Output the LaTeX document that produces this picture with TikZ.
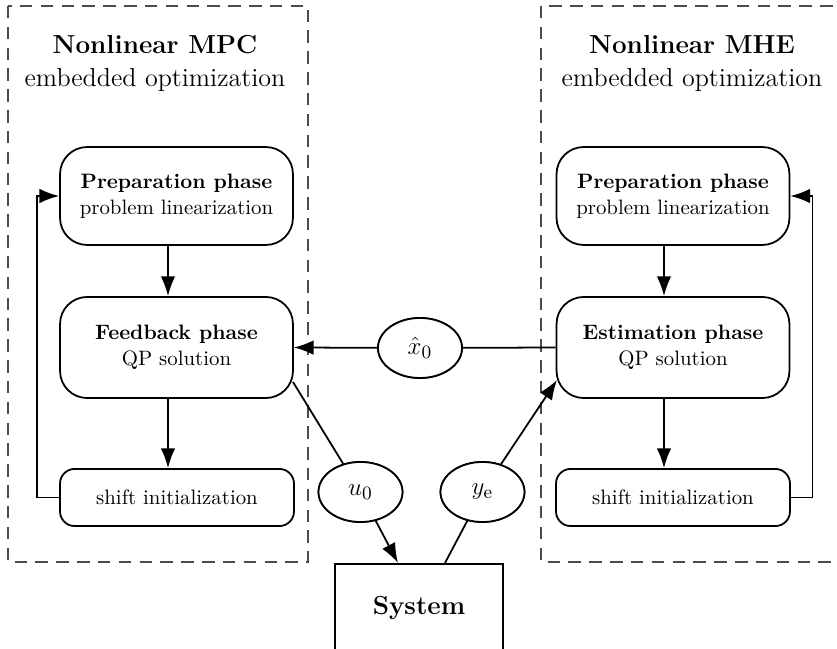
\documentclass[tikz,border=0pt]{standalone}
\usetikzlibrary{arrows.meta,shapes.geometric,calc}
\begin{document}
\begin{tikzpicture}[x=0.48pt,y=-0.48pt,
  frame/.style={draw=black!70,line width=0.5pt,dash pattern=on 6pt off 4pt},
  phase/.style={draw,line width=0.85pt,rounded corners=13pt,align=center,
    minimum width=111.8pt,minimum height=47pt,inner sep=0pt,font=\fontsize{10}{12.5}\selectfont},
  shiftbox/.style={draw,line width=0.85pt,rounded corners=7pt,align=center,
    minimum width=112.3pt,minimum height=27.4pt,inner sep=0pt,font=\fontsize{10}{12.5}\selectfont},
  signal/.style={draw,ellipse,line width=0.85pt,fill=white,minimum width=40.3pt,
    minimum height=28.8pt,inner sep=0pt,font=\fontsize{13}{15}\selectfont},
  title/.style={align=center,font=\fontsize{12.5}{15.5}\selectfont},
  flow/.style={line width=0.85pt,-{Latex[length=9.5pt,width=7pt]}},
  wire/.style={line width=0.85pt}]
\useasboundingbox (0,0) rectangle (837,649);
\clip (0,0) rectangle (837,649);

% dashed frames around the two optimizers
\draw[frame] (8,6) rectangle (308,562);
\draw[frame] (541,6) rectangle (860,562);

% titles
\node[title] (tmpc) at (155,63.5) {\textbf{Nonlinear MPC}\\embedded optimization};
\node[title] (tmhe) at (692,63.5) {\textbf{Nonlinear MHE}\\embedded optimization};

% MPC side
\node[phase] (prepL) at (176.5,196) {\textbf{Preparation phase}\\problem linearization};
\node[phase,minimum height=48.5pt] (fbL) at (176.5,347.5) {\textbf{Feedback phase}\\QP solution};
\node[shiftbox] (shL) at (177,497.5) {shift initialization};

% MHE side
\node[phase] (prepR) at (673,196) {\textbf{Preparation phase}\\problem linearization};
\node[phase,minimum height=48.5pt] (fbR) at (673,347.5) {\textbf{Estimation phase}\\QP solution};
\node[shiftbox] (shR) at (673,497.5) {shift initialization};

% plant
\node[draw,line width=0.85pt,minimum width=80.3pt,minimum height=42pt,inner sep=0pt,
  anchor=north,font=\fontsize{12.5}{15}\selectfont\bfseries] (sys) at (419,563) {System};

% signals
\node[signal] (xh) at (420,348) {$\hat{x}_0$};
\node[signal] (u0) at (360.5,492) {$u_0$};
\node[signal] (ye) at (482.5,492) {$y_\mathrm{e}$};

% MPC flow
\draw[flow] (prepL.south -| 168,0) -- (fbL.north -| 168,0);
\draw[flow] (fbL.south -| 168,0) -- (shL.north -| 168,0);
\draw[flow] (shL.west) -| (37,300) |- (prepL.west);

% MHE flow
\draw[flow] (prepR.south -| 664,0) -- (fbR.north -| 664,0);
\draw[flow] (fbR.south -| 664,0) -- (shR.north -| 664,0);
\draw[flow] (shR.east) -| (812.5,300) |- (prepR.east);

% signal paths
\coordinate (fbLout) at (293,382);
\coordinate (sysin) at (398,563);
\coordinate (sysout) at (445,563);
\coordinate (fbRin) at (557,380);
\draw[wire] (fbR.west) -- (xh);
\draw[flow] (xh) -- (fbL.east);
\draw[wire] (fbLout) -- (u0);
\draw[flow] (u0) -- (sysin);
\draw[wire] (sysout) -- (ye);
\draw[flow] (ye) -- (fbRin);
\node[signal] at (xh) {$\hat{x}_0$};
\node[signal] at (u0) {$u_0$};
\node[signal] at (ye) {$y_\mathrm{e}$};
\end{tikzpicture}
\end{document}
